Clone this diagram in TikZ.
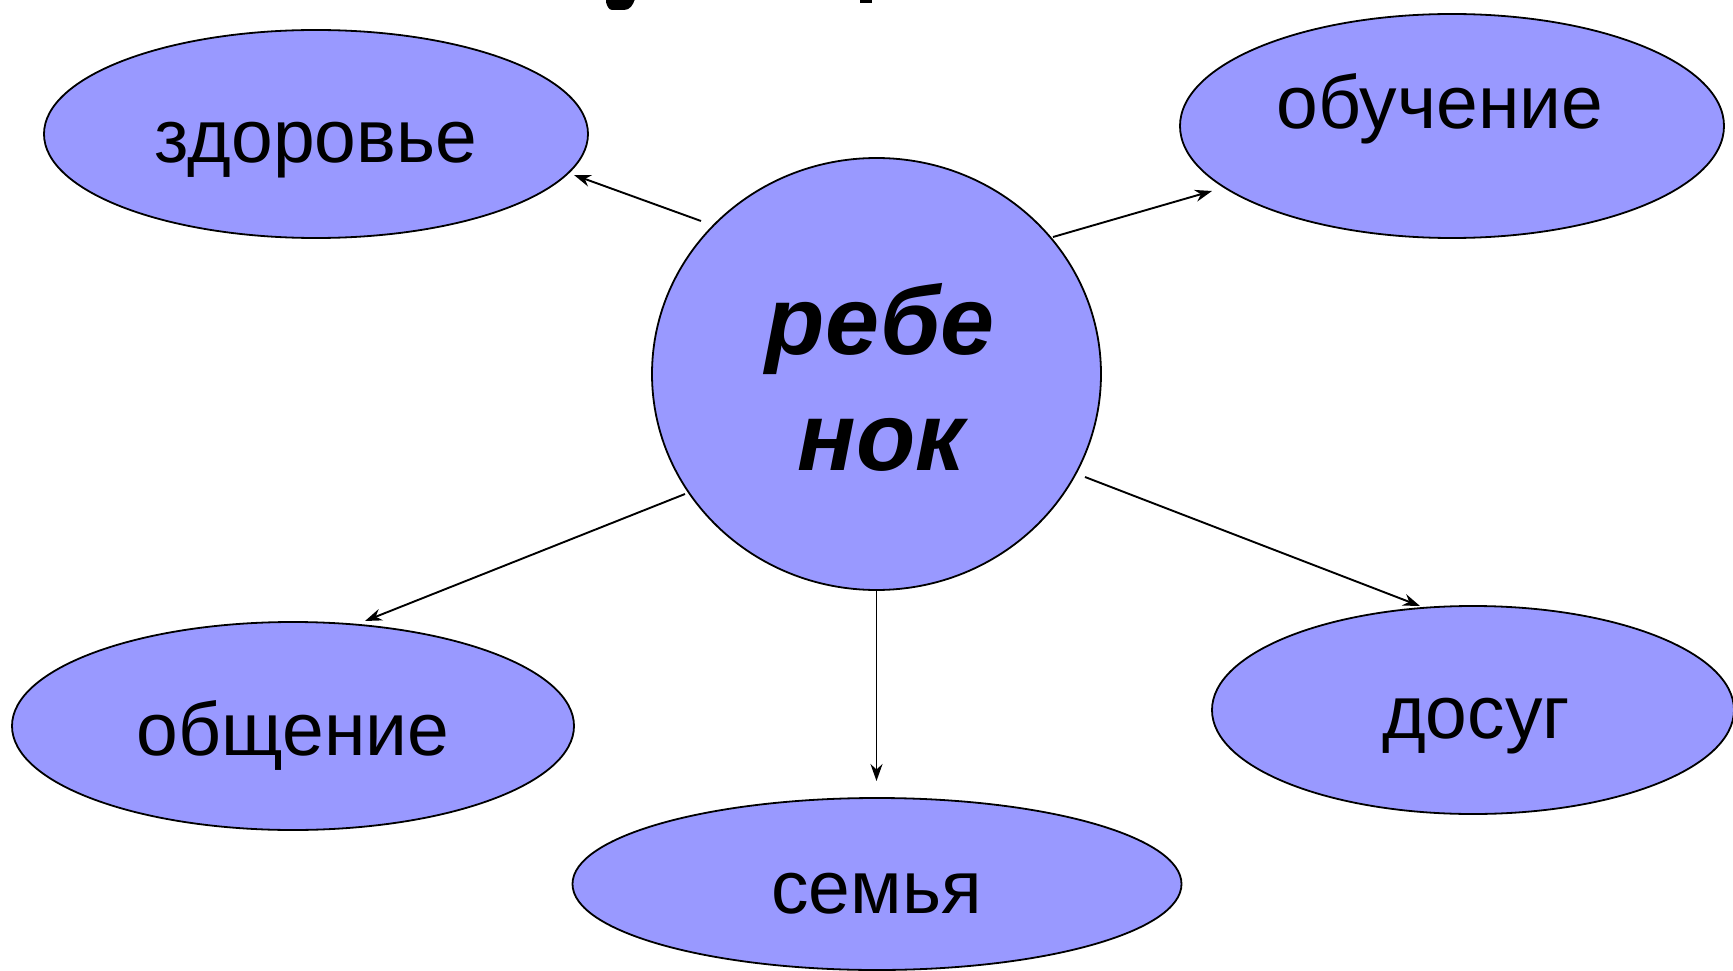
\documentclass[tikz,border=0pt]{standalone}
\usepackage{fontspec}
\setmainfont{Liberation Sans}
\usetikzlibrary{shapes.geometric,arrows.meta}
\definecolor{bub}{RGB}{153,153,255}
\tikzset{
  bubble/.style={ellipse, draw=black, fill=bub, line width=1.8pt, inner sep=0pt},
  lbl/.style={anchor=base, inner sep=0pt, font=\fontsize{75}{90}\selectfont},
  big/.style={anchor=base, inner sep=0pt, font=\fontsize{97}{116}\selectfont\bfseries\itshape},
  link/.style={line width=1.9pt, -{Stealth[length=17pt,width=12pt]}},
}
\begin{document}
\begin{tikzpicture}[x=1pt,y=-1pt]
\useasboundingbox (0,0) rectangle (1733,971);
\begin{scope}
\clip (0,0) rectangle (1733,971);
% ellipses
\node[bubble, minimum width=544pt, minimum height=208pt] (zd) at (316,134) {};
\node[bubble, minimum width=544pt, minimum height=224pt] (ob) at (1452,126) {};
\node[bubble, minimum width=449pt, minimum height=432pt] (c) at (876.5,374) {};
\node[bubble, minimum width=562pt, minimum height=208pt] (og) at (293,726) {};
\node[bubble, minimum width=609pt, minimum height=172pt] (se) at (877,884) {};
\node[bubble, minimum width=522pt, minimum height=208pt] (do) at (1473,710) {};
% labels
\node[lbl] (tzd) at (316,163) {здоровье};
\node[lbl] (tob) at (1440,129) {обучение};
\node[lbl] (tog) at (293,755) {общение};
\node[lbl] (tse) at (876.5,913) {семья};
\node[lbl] (tdo) at (1476,738) {досуг};
\node[big] (t1) at (880,354) {ребе};
\node[big] (t2) at (881,470) {нок};
% connector end points
\coordinate (s1) at (701,221);
\coordinate (e1) at (574,175);
\coordinate (s2) at (1053,237);
\coordinate (e2) at (1212,191);
\coordinate (s3) at (685,494);
\coordinate (e3) at (365,621);
\coordinate (e4) at (876.5,781);
\coordinate (s5) at (1085,477);
\coordinate (e5) at (1420,606);
\draw[link] (s1) -- (e1);
\draw[link] (s2) -- (e2);
\draw[link] (s3) -- (e3);
\draw[link] (c.south) -- (e4);
\draw[link] (s5) -- (e5);
% cut-off fragments of the title at the top edge
\fill (606,-1) -- (635,-1) .. controls (633,5) and (630,10) .. (624,10) -- (612,10) .. controls (609,10) and (607,6) .. (606,2) -- cycle;
\fill (860,-1) rectangle (872,2.7);
\end{scope}
\end{tikzpicture}
\end{document}
